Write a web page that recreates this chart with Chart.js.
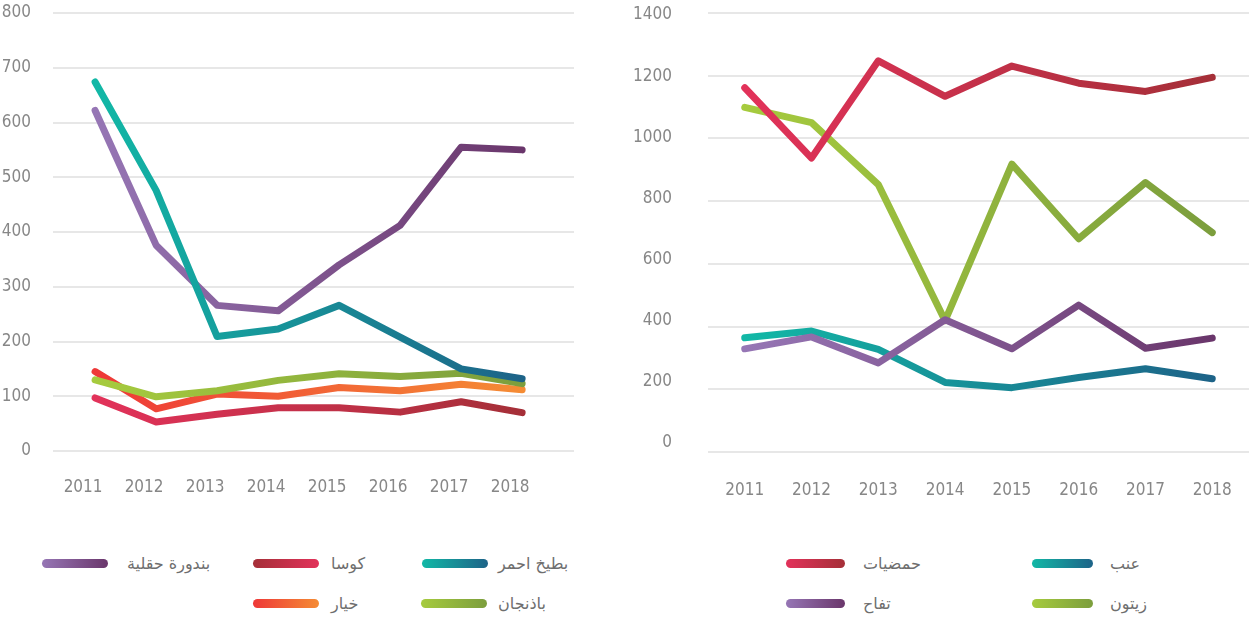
<!DOCTYPE html>
<html>
<head>
<meta charset="utf-8">
<script src="https://cdn.jsdelivr.net/npm/chart.js@4/dist/chart.umd.min.js"></script>
<style>
  body { margin: 0; background: #fff; width: 1249px; height: 619px; position: relative; overflow: hidden; font-family: 'DejaVu Sans', sans-serif; }
  .box { position: absolute; top: 0; height: 520px; }
  #leftBox { left: 0; width: 600px; }
  #rightBox { left: 620px; width: 629px; }
  .leg { position: absolute; height: 22px; display: flex; align-items: center; color: #6e6e6e; font-size: 16px; white-space: nowrap; }
  .leg i { display: block; height: 9px; border-radius: 5px; }
</style>
</head>
<body>
<div class="box" id="leftBox"><canvas id="vegChart"></canvas></div>
<div class="box" id="rightBox"><canvas id="fruitChart"></canvas></div>

<script>
// Jahre (x-Achse)
var years = [2011, 2012, 2013, 2014, 2015, 2016, 2017, 2018];

// linkes Diagramm: Gemüse
var vegNames = ['بطيخ احمر', 'بندورة حقلية', 'باذنجان', 'خيار', 'كوسا'];
var watermelon = [674, 476, 209, 223, 266, 208, 150, 132];
var tomato     = [622, 376, 266, 256, 340, 412, 555, 550];
var eggplant   = [130, 99, 110, 129, 141, 136, 142, 123];
var cucumber   = [145, 77, 104, 100, 116, 110, 122, 112];
var zucchini   = [97, 53, 67, 79, 79, 71, 90, 70];
var vegTicks   = [0, 100, 200, 300, 400, 500, 600, 700, 800];

// rechtes Diagramm: Obst
var fruitNames = ['حمضيات', 'تفاح', 'عنب', 'زيتون'];
var citrus = [1162, 932, 1250, 1134, 1233, 1177, 1150, 1196];
var apples = [308, 347, 262, 403, 308, 451, 310, 343];
var grapes = [344, 366, 306, 198, 181, 214, 243, 210];
var olives = [1098, 1048, 845, 400, 912, 668, 852, 688];
var fruitTicks = [0, 200, 400, 600, 800, 1000, 1200, 1400];

// Farbverläufe (Start -> Ende)
var teal   = ['#12b8a6', '#1d6388'];
var purple = ['#9676b5', '#6a366b'];
var red    = ['#e2325a', '#a52f38'];
var orange = ['#ee3838', '#f58c34'];
var green  = ['#a6cb3e', '#7c9e3d'];

var tickFont = { family: "'Liberation Sans Narrow', 'DejaVu Sans Condensed', sans-serif", size: 17 };
var tickColor = '#878787';
var gridColor = '#e7e7e7';

function gradient(colors) {
    return function(ctx) {
        var chart = ctx.chart;
        var x = chart.scales.x;
        if (!chart.chartArea || !x) return colors[0];
        var g = chart.ctx.createLinearGradient(x.getPixelForValue(years[0]), 0, x.getPixelForValue(years[years.length - 1]), 0);
        g.addColorStop(0, colors[0]);
        g.addColorStop(1, colors[1]);
        return g;
    };
}

function series(label, values, colors) {
    return {
        label: label,
        data: values.map((v, i) => ({ x: years[i], y: v })),
        borderColor: gradient(colors),
        borderWidth: 7,
        borderCapStyle: 'round',
        borderJoinStyle: 'round',
        pointRadius: 0,
        fill: false,
        tension: 0
    };
}

function setTicks(list) {
    return function(scale) { scale.ticks = list.map(v => ({ value: v })); };
}

// feste Achsengröße, ohne Zusatzabstand für überstehende Beschriftungen
function fixSize(w, h) {
    return function(s) {
        if (w !== null) s.width = w;
        if (h !== null) s.height = h;
        s.paddingTop = 0; s.paddingBottom = 0; s.paddingLeft = 0; s.paddingRight = 0;
    };
}

function xScale(min, max, labelOffset, height, padding) {
    return {
        type: 'linear', min: min, max: max,
        afterBuildTicks: setTicks(years),
        afterFit: fixSize(null, height),
        grid: { display: false },
        border: { display: false },
        ticks: { font: tickFont, color: tickColor, padding: padding, labelOffset: labelOffset, maxRotation: 0, callback: v => String(v) }
    };
}

var baseOptions = {
    responsive: true,
    maintainAspectRatio: false,
    animation: false,
    plugins: { legend: { display: false }, tooltip: { enabled: false } }
};

// linkes Diagramm
new Chart(document.getElementById('vegChart'), {
    type: 'line',
    data: {
        datasets: [
            series(vegNames[0], watermelon, teal),
            series(vegNames[1], tomato, purple),
            series(vegNames[2], eggplant, green),
            series(vegNames[3], cucumber, orange),
            series(vegNames[4], zucchini, red)
        ]
    },
    options: Object.assign({}, baseOptions, {
        layout: { padding: { top: 13, right: 26, bottom: 0, left: 0 } },
        scales: {
            x: xScale(2010.31, 2018.85, -12, 69, 18),
            y: {
                min: 0, max: 800,
                afterBuildTicks: setTicks(vegTicks),
                afterFit: fixSize(53, null),
                grid: { color: gridColor, lineWidth: 2, drawTicks: false },
                border: { display: false },
                ticks: { font: tickFont, color: tickColor, padding: 22, callback: v => String(v) }
            }
        }
    })
});

// rechtes Diagramm: Beschriftung liegt leicht versetzt zu den Gitterlinien
new Chart(document.getElementById('fruitChart'), {
    type: 'line',
    data: {
        datasets: [
            series(fruitNames[0], citrus, red),
            series(fruitNames[1], apples, purple),
            series(fruitNames[2], grapes, teal),
            series(fruitNames[3], olives, green)
        ]
    },
    options: Object.assign({}, baseOptions, {
        layout: { padding: { top: 13, right: 0, bottom: 0, left: 0 } },
        scales: {
            x: xScale(2010.45, 2018.55, 0, 68, 20),
            yl: {
                type: 'linear', position: 'left', min: -29.5, max: 1406.5,
                afterBuildTicks: setTicks(fruitTicks),
                afterFit: fixSize(88, null),
                grid: { display: false },
                border: { display: false },
                ticks: { font: tickFont, color: tickColor, padding: 28, callback: v => String(v) }
            },
            y: {
                position: 'left', min: 0, max: 1400,
                afterBuildTicks: setTicks(fruitTicks),
                afterFit: fixSize(0, null),
                grid: { color: gridColor, lineWidth: 2, drawTicks: false },
                border: { display: false },
                ticks: { display: false }
            }
        }
    })
});

// Legenden (HTML, Verlauf wie im Original)
var legendItems = [
    // [Text, Farben, links, Zeile, Breite, Abstand]
    [vegNames[0], teal, 422, 0, 66, 10],
    [vegNames[4], [red[1], red[0]], 253, 0, 66, 12],
    [vegNames[1], purple, 42, 0, 66, 19],
    [vegNames[2], green, 421, 1, 66, 11],
    [vegNames[3], orange, 253, 1, 66, 12],
    [fruitNames[0], red, 786, 0, 59, 18],
    [fruitNames[2], teal, 1032, 0, 61, 17],
    [fruitNames[1], purple, 786, 1, 59, 18],
    [fruitNames[3], green, 1032, 1, 61, 17]
];
var rowTop = [552, 592];

legendItems.forEach(function(item) {
    var el = document.createElement('div');
    el.className = 'leg';
    el.style.left = item[2] + 'px';
    el.style.top = rowTop[item[3]] + 'px';
    var sw = document.createElement('i');
    sw.style.width = item[4] + 'px';
    sw.style.marginRight = item[5] + 'px';
    sw.style.background = 'linear-gradient(to right, ' + item[1][0] + ', ' + item[1][1] + ')';
    var tx = document.createElement('span');
    tx.textContent = item[0];
    el.appendChild(sw);
    el.appendChild(tx);
    document.body.appendChild(el);
});
</script>
</body>
</html>
